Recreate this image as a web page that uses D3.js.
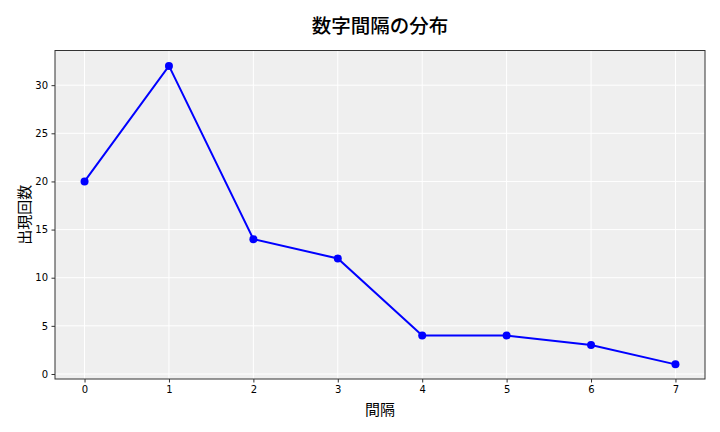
<!DOCTYPE html>
<html><head><meta charset="utf-8">
<script src="https://cdn.jsdelivr.net/npm/d3@7"></script>
<style>body{margin:0;background:#fff}svg{display:block}</style>
</head><body>
<svg id="c" width="720" height="432"></svg>
<script>
const categories = [0, 1, 2, 3, 4, 5, 6, 7];
const counts = [20, 32, 14, 12, 4, 4, 3, 1];
const yTicks = [0, 5, 10, 15, 20, 25, 30];
const title = "数字間隔の分布";
const xLabel = "間隔";
const yLabel = "出現回数";

const svg = d3.select("#c");
const L = 55, R = 705, T = 50.5, B = 379;
const x = d3.scaleLinear().domain([-0.35, 7.35]).range([L, R]);
const y = d3.scaleLinear().domain([-0.52, 33.6]).range([B, T]);

svg.append("rect").attr("x", L).attr("y", T).attr("width", R - L).attr("height", B - T).attr("fill", "#efefef");

const g = svg.append("g");
g.selectAll(".gx").data(categories).enter().append("line")
  .attr("x1", d => x(d)).attr("x2", d => x(d)).attr("y1", T).attr("y2", B)
  .attr("stroke", "#fff").attr("stroke-width", 1);
g.selectAll(".gy").data(yTicks).enter().append("line")
  .attr("y1", d => y(d)).attr("y2", d => y(d)).attr("x1", L).attr("x2", R)
  .attr("stroke", "#fff").attr("stroke-width", 1);

const font = "'DejaVu Sans', sans-serif";
const xAxis = svg.append("g").attr("transform", `translate(0,${B})`)
  .call(d3.axisBottom(x).tickValues(categories).tickSize(3.5).tickPadding(3.5).tickFormat(d3.format("d")));
const yAxis = svg.append("g").attr("transform", `translate(${L},0)`)
  .call(d3.axisLeft(y).tickValues(yTicks).tickSize(3.5).tickPadding(3.5).tickFormat(d3.format("d")));
[xAxis, yAxis].forEach(a => {
  a.select(".domain").remove();
  a.selectAll("text").attr("font-family", font).attr("font-size", 10).attr("fill", "#000");
  a.selectAll("line").attr("stroke", "#333");
});

svg.append("rect").attr("x", L).attr("y", T).attr("width", R - L).attr("height", B - T)
  .attr("fill", "none").attr("stroke", "#333").attr("stroke-width", 1);

const line = d3.line().x((d, i) => x(categories[i])).y(d => y(d));
svg.append("path").datum(counts).attr("d", line).attr("fill", "none")
  .attr("stroke", "#0000ff").attr("stroke-width", 2);
svg.selectAll(".pt").data(counts).enter().append("circle")
  .attr("cx", (d, i) => x(categories[i])).attr("cy", d => y(d)).attr("r", 4)
  .attr("fill", "#0000ff");

const cjk = "'Noto Sans CJK JP', sans-serif";
svg.append("text").attr("x", (L + R) / 2).attr("y", 24).attr("text-anchor", "middle")
  .attr("dominant-baseline", "central").attr("font-family", cjk).attr("font-size", 19.5)
  .attr("font-weight", 500).text(title);
svg.append("text").attr("x", (L + R) / 2).attr("y", 408).attr("text-anchor", "middle")
  .attr("dominant-baseline", "central").attr("font-family", cjk).attr("font-size", 15).text(xLabel);
svg.append("text").attr("transform", `translate(23,${(T + B) / 2}) rotate(-90)`).attr("text-anchor", "middle")
  .attr("dominant-baseline", "central").attr("font-family", cjk).attr("font-size", 15).text(yLabel);
</script>
</body></html>
